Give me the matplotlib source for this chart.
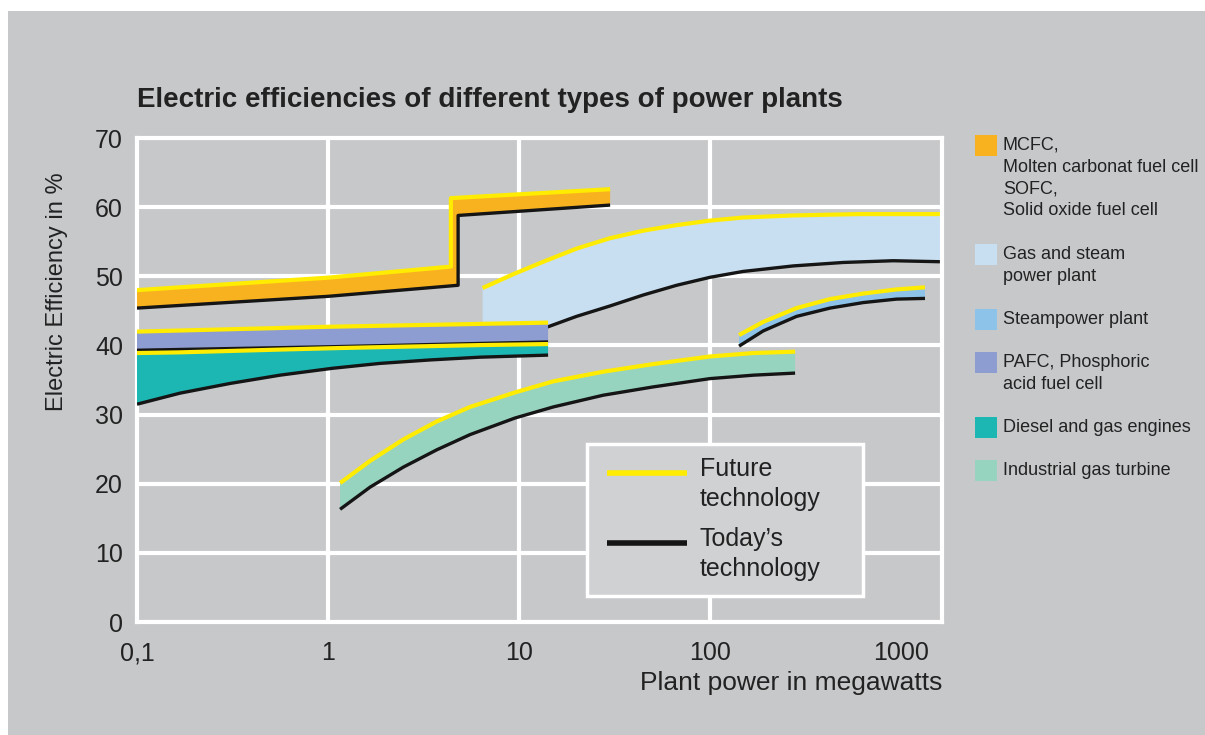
import matplotlib
matplotlib.use("Agg")
import matplotlib.pyplot as plt
from matplotlib.patches import Rectangle

plt.rcParams["font.family"] = ["Liberation Sans", "DejaVu Sans"]

# values (x = plant power in MW, y = efficiency in %)
# MCFC / SOFC
mcfc_future_x = [0.1, 1, 4.4, 4.4, 30]
mcfc_future_y = [48.0, 49.8, 51.4, 61.3, 62.6]
mcfc_today_x = [0.1, 1, 4.8, 4.8, 30]
mcfc_today_y = [45.4, 47.1, 48.7, 58.8, 60.3]

# gas and steam power plant
gs_future_x = [6.45, 9.33, 13.4, 20, 29.9, 44.8, 66.9, 100, 149, 273, 610, 1640]
gs_future_y = [48.3, 50.3, 52.1, 54.0, 55.5, 56.6, 57.4, 58.05, 58.5, 58.8, 59.0, 59.0]
gs_today_x = [6.45, 14.2, 20, 29.9, 44.8, 66.9, 100, 149, 273, 499, 912, 1640]
gs_today_y = [41.8, 42.7, 44.2, 45.7, 47.3, 48.7, 49.85, 50.7, 51.5, 52.0, 52.25, 52.1]

# steam power plant
sp_x = [142, 190, 284, 425, 635, 949, 1336]
sp_future_y = [41.5, 43.4, 45.4, 46.7, 47.5, 48.1, 48.4]
sp_today_y = [39.9, 42.1, 44.2, 45.4, 46.2, 46.7, 46.8]

# PAFC
pafc_x = [0.1, 1, 14.2]
pafc_future_y = [42.0, 42.7, 43.3]
pafc_today_y = [39.3, 39.8, 40.5]

# diesel and gas engines
de_x = [0.1, 0.168, 0.307, 0.561, 1.06, 1.87, 3.42, 6.25, 14.2]
de_future_y = [38.9, 39.0, 39.2, 39.4, 39.6, 39.75, 39.9, 40.05, 40.2]
de_today_y = [31.5, 33.1, 34.5, 35.7, 36.7, 37.4, 37.9, 38.3, 38.6]

# industrial gas turbine
gt_x = [1.157, 1.66, 2.48, 3.71, 5.54, 9.53, 15.1, 27.6, 50.4, 100, 169, 279]
gt_future_y = [20.1, 23.3, 26.4, 29.0, 31.1, 33.2, 34.8, 36.2, 37.3, 38.4, 38.9, 39.1]
gt_today_y = [16.3, 19.5, 22.4, 24.9, 27.1, 29.5, 31.1, 32.8, 34.0, 35.2, 35.7, 36.0]

x_ticks = [0.1, 1, 10, 100, 1000]
x_ticklabels = ["0,1", "1", "10", "100", "1000"]
y_ticks = [0, 10, 20, 30, 40, 50, 60, 70]

legend_labels = [
    "MCFC,\nMolten carbonat fuel cell\nSOFC,\nSolid oxide fuel cell",
    "Gas and steam\npower plant",
    "Steampower plant",
    "PAFC, Phosphoric\nacid fuel cell",
    "Diesel and gas engines",
    "Industrial gas turbine",
]
legend_colors = ["#f9b21f", "#c8def1", "#8dc3e8", "#8e9dd1", "#1cb7b3", "#97d4bf"]
line_labels = ["Future\ntechnology", "Today\u2019s\ntechnology"]

YELLOW = "#ffec00"
BLACK = "#151515"
BG = "#c7c8ca"
TXT = "#222222"

W, H = 1205, 735
fig = plt.figure(figsize=(W / 100, H / 100), dpi=100, facecolor="white")
fig.add_artist(Rectangle((8 / W, 0), 1 - 8 / W, 1 - 11 / H, transform=fig.transFigure,
                         facecolor=BG, edgecolor="none", zorder=-10))

ax = fig.add_axes([137 / W, 1 - 622 / H, 805 / W, 484 / H])
ax.set_facecolor(BG)
ax.set_xscale("log")
ax.set_xlim(0.1, 1640)
ax.set_ylim(0, 70)

for s in ax.spines.values():
    s.set_color("white")
    s.set_linewidth(3)
for gx in [1, 10, 100]:
    ax.axvline(gx, color="white", lw=3, zorder=0)
for gy in y_ticks[1:-1]:
    ax.axhline(gy, color="white", lw=3, zorder=0)

ax.set_xticks(x_ticks)
ax.set_xticklabels(x_ticklabels)
ax.minorticks_off()
ax.set_yticks(y_ticks)
ax.tick_params(length=0, labelsize=18, labelcolor=TXT)
ax.tick_params(axis="x", pad=14)
ax.tick_params(axis="y", pad=10)


def band(xf, yf, xt, yt, color, z):
    ax.fill(list(xf) + list(xt)[::-1], list(yf) + list(yt)[::-1],
            color=color, lw=0, zorder=z)
    ax.plot(xt, yt, color=BLACK, lw=2.4, zorder=z + 0.1, solid_capstyle="butt")
    ax.plot(xf, yf, color=YELLOW, lw=3, zorder=z + 0.2, solid_capstyle="butt")


band(gs_future_x, gs_future_y, gs_today_x, gs_today_y, legend_colors[1], 2)
band(gt_x, gt_future_y, gt_x, gt_today_y, legend_colors[5], 2)
band(sp_x, sp_future_y, sp_x, sp_today_y, legend_colors[2], 3)
band(pafc_x, pafc_future_y, pafc_x, pafc_today_y, legend_colors[3], 4)
band(de_x, de_future_y, de_x, de_today_y, legend_colors[4], 4)
band(mcfc_future_x, mcfc_future_y, mcfc_today_x, mcfc_today_y, legend_colors[0], 5)


# inner legend box (pixel layout converted to axes fractions)
def axx(px):
    return (px - 137) / 805


def axy(py):
    return (622 - py) / 484


ax.add_patch(Rectangle((axx(587), axy(596)), axx(863) - axx(587), axy(444) - axy(596),
                       transform=ax.transAxes, facecolor="#d0d1d3", edgecolor="white",
                       lw=2.5, zorder=10))
for lab, col, ly, ty in zip(line_labels, [YELLOW, BLACK], [473, 543], [484, 554]):
    ax.plot([axx(607), axx(687)], [axy(ly), axy(ly)], transform=ax.transAxes,
            color=col, lw=4, zorder=11, solid_capstyle="butt")
    ax.text(axx(700), axy(ty), lab, transform=ax.transAxes, fontsize=18, color=TXT,
            va="center", ha="left", linespacing=1.27, zorder=11)

ax.set_ylabel("Electric Efficiency in %", fontsize=17, color=TXT)
ax.yaxis.set_label_coords(-0.0857, 0.682)
ax.set_xlabel("Plant power in megawatts", fontsize=19, color=TXT, ha="right", va="center")
ax.xaxis.set_label_coords(1.0, -0.126)

fig.text(137 / W, 1 - 100 / H, "Electric efficiencies of different types of power plants",
         fontsize=20, fontweight="bold", color=TXT, va="center", ha="left")

# side legend with squares aligned to the first text line
y_top = 135
for lab, col in zip(legend_labels, legend_colors):
    fig.add_artist(Rectangle((975 / W, 1 - (y_top + 21) / H), 22 / W, 21 / H,
                             transform=fig.transFigure, facecolor=col, edgecolor="none"))
    fig.text(1003 / W, 1 - (y_top + 2) / H, lab, fontsize=13, color=TXT,
             va="top", ha="left", linespacing=1.36)
    y_top += 22 * (lab.count("\n") + 1) + 21

fig.savefig("out.png", dpi=100, facecolor="white")
